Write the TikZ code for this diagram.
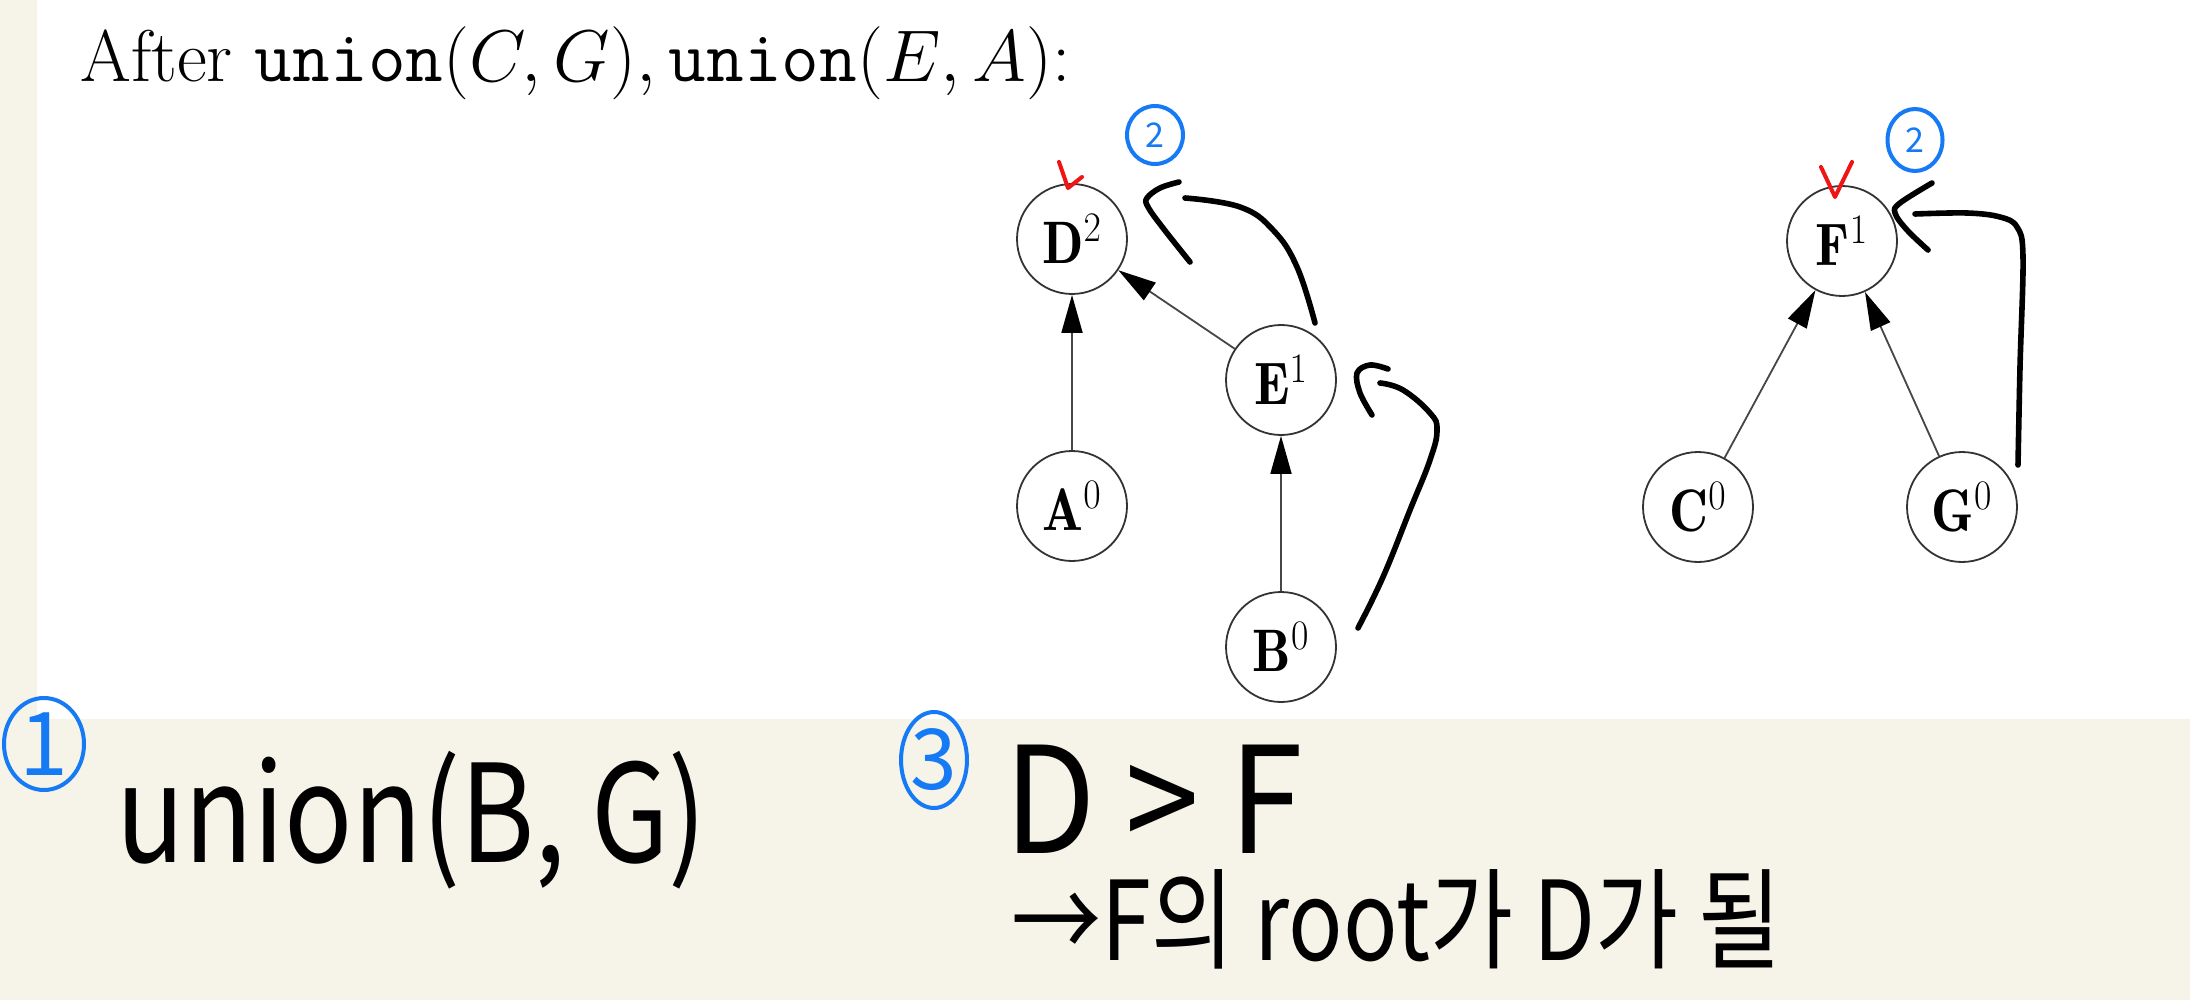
\RequirePackage{fix-cm}
\documentclass[tikz,border=0pt]{standalone}
\usepackage{fontspec}
\usepackage{graphicx}
\newfontfamily\hand{Noto Sans CJK KR}
\usetikzlibrary{arrows.meta,shapes.geometric}
\definecolor{paper}{RGB}{246,244,232}
\definecolor{penblue}{RGB}{22,122,245}
\definecolor{penred}{RGB}{240,20,20}
\definecolor{edgegray}{RGB}{70,70,70}
\newcommand{\vlabel}[2]{\scalebox{0.9}[1]{$\mathbf{#1}^{#2}$}}
\begin{document}
\begin{tikzpicture}[x=0.5pt,y=-0.5pt,
  vertex/.style={circle, draw=black!80, line width=0.9pt, minimum size=55pt, inner sep=0pt, font=\fontsize{30}{30}\selectfont},
  link/.style={draw=edgegray, line width=0.9pt, -{Triangle[length=19pt,width=10.5pt,color=black]}},
  ink/.style={line width=2.8pt, line cap=round, line join=round, black},
  redink/.style={line width=2pt, line cap=round, line join=round, penred},
  bluenum/.style={ellipse, draw=penblue, line width=2pt, text=penblue, inner sep=0pt},
  handtext/.style={anchor=base west, inner sep=0pt, text=black}
]
\useasboundingbox (0,0) rectangle (2190,1000);
\fill[paper] (0,0) rectangle (2190,1000);
\fill[white] (37,0) rectangle (2190,719);

% title
\node[anchor=base west, inner sep=0pt, font=\fontsize{36.6}{42}\selectfont] (title) at (80,82)
  {After $\mathtt{union}(C,G),\mathtt{union}(E,A)$:};

% tree nodes
\node[vertex] (D) at (1072,239) {\vlabel{D}{2}};
\node[vertex] (E) at (1281,380) {\vlabel{E}{1}};
\node[vertex] (A) at (1072,506) {\vlabel{A}{0}};
\node[vertex] (B) at (1281,647) {\vlabel{B}{0}};
\node[vertex] (F) at (1842,241) {\vlabel{F}{1}};
\node[vertex] (C) at (1698,507) {\vlabel{C}{0}};
\node[vertex] (G) at (1962,507) {\vlabel{G}{0}};

\draw[link] (A) -- (D);
\draw[link] (E) -- (D);
\draw[link] (B) -- (E);
\draw[link] (C) -- (F);
\draw[link] (G) -- (F);

% red checks
\draw[redink] (1059,162) -- (1068,188) -- (1082,177);
\draw[redink] (1821,167) -- (1835,197) -- (1852,162);

% blue circled numbers
\node[bluenum, minimum width=28pt, minimum height=29pt, font=\hand\fontsize{17}{17}\selectfont] (n2a) at (1155,135) {2};
\node[bluenum, minimum width=27.5pt, minimum height=31pt, font=\hand\fontsize{17}{17}\selectfont] (n2b) at (1915,140) {2};
\node[bluenum, minimum width=40pt, minimum height=46pt, font=\hand\fontsize{44}{44}\selectfont] (n1) at (44,744) {1};
\node[bluenum, minimum width=32pt, minimum height=48pt, font=\hand\fontsize{42}{42}\selectfont] (n3) at (934,760) {3};

% hand-drawn arrows
\draw[ink] plot[smooth, tension=0.7] coordinates {(1315,323) (1297,267) (1273,230) (1240,207) (1185,198)};
\draw[ink] plot[smooth, tension=0.6] coordinates {(1179,182) (1160,188) (1147,198) (1148,207) (1163,228) (1190,262)};
\draw[ink] plot[smooth, tension=0.7] coordinates {(1358,628) (1383,577) (1410,510) (1430,460) (1437,430) (1430,413) (1403,390) (1380,383)};
\draw[ink] plot[smooth, tension=0.6] coordinates {(1388,369) (1370,365) (1357,373) (1360,393) (1372,415)};
\draw[ink] plot[smooth, tension=0.6] coordinates {(2018,465) (2020,367) (2023,257) (2017,227) (2000,217) (1967,213) (1915,214)};
\draw[ink] plot[smooth, tension=0.6] coordinates {(1932,183) (1900,203) (1895,213) (1907,230) (1928,250)};

% handwritten notes
\node[handtext, font=\hand\fontsize{68}{68}\selectfont] (t1) at (116,862) {\scalebox{0.83}[1]{union(B, G)}};
\node[handtext, font=\hand\fontsize{74}{74}\selectfont] (t2) at (1004,853) {\scalebox{0.9}[1]{D > F}};
\node[handtext, font=\hand\fontsize{55}{55}\selectfont] (t3) at (1011,960) {\scalebox{0.82}[1]{→F의 root가 D가 될}};
\end{tikzpicture}
\end{document}
